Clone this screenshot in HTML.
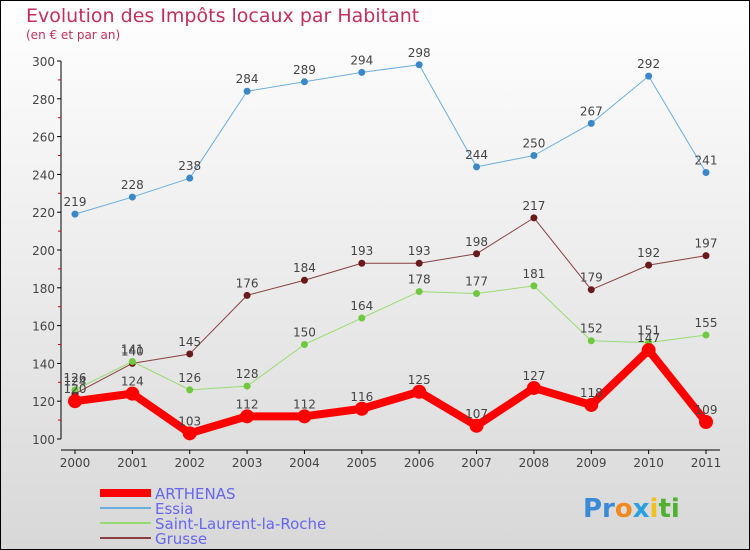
<!DOCTYPE html>
<html><head><meta charset="utf-8"><style>
body{margin:0}
svg{display:block;font-family:"DejaVu Sans","Liberation Sans",sans-serif}
</style></head><body>
<svg width="750" height="550" xmlns="http://www.w3.org/2000/svg">
<defs><linearGradient id="bg" x1="0" y1="0" x2="0" y2="1"><stop offset="0" stop-color="#ffffff"/><stop offset="1" stop-color="#d8d8d8"/></linearGradient></defs>
<rect x="0.5" y="0.5" width="749" height="549" fill="url(#bg)" stroke="#000"/>
<text x="26" y="22" font-size="19" fill="#c0305a">Evolution des Impôts locaux par Habitant</text>
<text x="26" y="39" font-size="12" fill="#c0305a">(en € et par an)</text>
<g id="axes"></g>
<g id="series"></g>
<g id="legend"></g>
<text x="583" y="517" font-size="26" font-weight="bold"><tspan fill="#3a8ad8">Pr</tspan><tspan fill="#f08a20">o</tspan><tspan fill="#2aa0e0">x</tspan><tspan fill="#f0c020">i</tspan><tspan fill="#50b030">ti</tspan></text>
</svg>
<script>
const years=[2000,2001,2002,2003,2004,2005,2006,2007,2008,2009,2010,2011];
const yTicks=[100,120,140,160,180,200,220,240,260,280,300];
const arthenas=[120,124,103,112,112,116,125,107,127,118,147,109];
const essia=[219,228,238,284,289,294,298,244,250,267,292,241];
const saintLaurent=[126,141,126,128,150,164,178,177,181,152,151,155];
const grusse=[124,140,145,176,184,193,193,198,217,179,192,197];
const NS="http://www.w3.org/2000/svg";
const x=i=>75+i*(706-75)/11;
const y=v=>439-(v-100)*(439-61)/200;
function el(tag,attrs,parent,txt){const e=document.createElementNS(NS,tag);for(const k in attrs)e.setAttribute(k,attrs[k]);if(txt!==undefined)e.textContent=txt;parent.appendChild(e);return e;}
const ax=document.getElementById('axes');
let a=el('line',{x1:61,y1:61,x2:61,y2:439,stroke:'#000'},ax);


a=el('line',{x1:61,y1:450,x2:720,y2:450,stroke:'#000'},ax);


yTicks.forEach((t,i)=>{
  el('line',{x1:57,y1:y(t),x2:61,y2:y(t),stroke:'#000'},ax);
  if(i<yTicks.length-1) el('line',{x1:58,y1:y(t+10),x2:61,y2:y(t+10),stroke:'#d00'},ax);
  const tx=el('text',{x:55,y:y(t)+5,'font-size':12,fill:'#444','text-anchor':'end'},ax,t);
  
  
});
years.forEach((yr,i)=>{
  el('line',{x1:x(i),y1:450,x2:x(i),y2:454,stroke:'#000'},ax);
  const tx=el('text',{x:x(i),y:467,'font-size':12,fill:'#444','text-anchor':'middle'},ax,yr);
  
  
});
const sg=document.getElementById('series');
function series(vals,color,dot,w,r,name){
  const g=el('g',{},sg);
  
  
  el('polyline',{points:vals.map((v,i)=>x(i)+','+y(v)).join(' '),fill:'none',stroke:color,'stroke-width':w,'stroke-linejoin':'round'},g);
  vals.forEach((v,i)=>{
    const c=el('circle',{cx:x(i),cy:y(v),r:r,fill:dot},g);
    
    
    const t=el('text',{x:x(i),y:y(v)-8,'font-size':12,fill:'#444','text-anchor':'middle'},g,v);
    
    
  });
}
series(essia,'#6aaee0','#3a88c8',1,3.5,'essia');
series(grusse,'#8a4040','#6a1a1a',1,3.5,'grusse');
series(saintLaurent,'#98dc70','#70c840',1,3.5,'saint-laurent');
series(arthenas,'#ff0000','#ff0000',8,7,'arthenas');
const lg=document.getElementById('legend');
const items=[['ARTHENAS','#ff0000',8],['Essia','#6aaee0',2],['Saint-Laurent-la-Roche','#98dc70',2],['Grusse','#8a4040',2]];
items.forEach((it,i)=>{
  const g=el('g',{},lg);
  
  
  const ly=493+i*15;
  el('line',{x1:100,y1:ly,x2:151,y2:ly,stroke:it[1],'stroke-width':it[2]},g);
  el('text',{x:155,y:ly+6,'font-size':15,fill:'#6666ee'},g,it[0]);
});
</script>
</body></html>
